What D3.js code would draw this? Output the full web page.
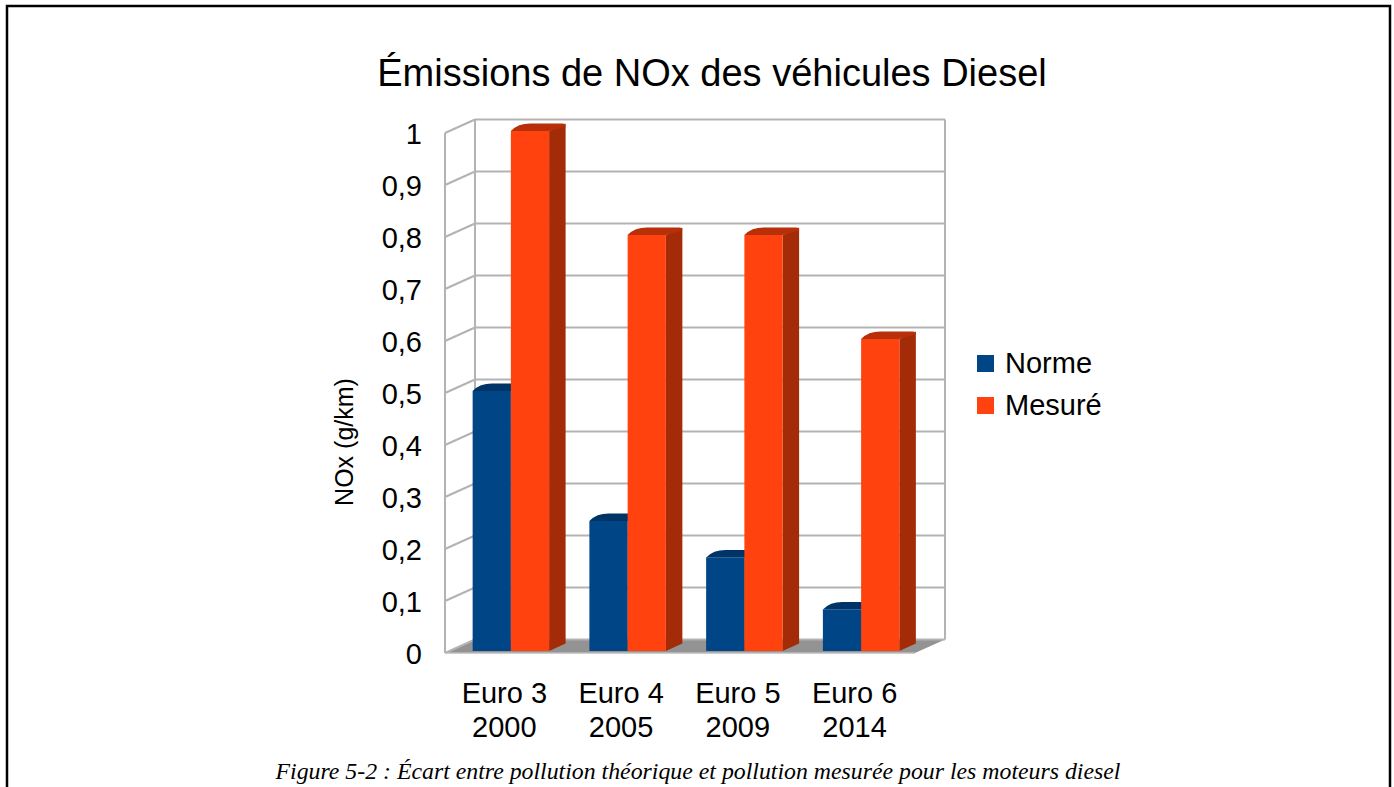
<!DOCTYPE html>
<html>
<head>
<meta charset="utf-8">
<script src="https://cdn.jsdelivr.net/npm/d3@7"></script>
<style>
  body { margin: 0; background: #fff; }
  svg text { font-family: "Liberation Sans", Arial, sans-serif; fill: #000; }
  .caption { font-family: "Liberation Serif", "DejaVu Serif", serif; font-style: italic; }
</style>
</head>
<body>
<svg id="chart" width="1394" height="787"></svg>
<script>
// chart data
var normes = ['Euro 3', 'Euro 4', 'Euro 5', 'Euro 6'];
var annees = ['2000', '2005', '2009', '2014'];
var seriesNames = ['Norme', 'Mesuré'];
var normeVals = [0.5, 0.25, 0.18, 0.08];
var mesureVals = [1.0, 0.8, 0.8, 0.6];
var yTicks = [0, 0.1, 0.2, 0.3, 0.4, 0.5, 0.6, 0.7, 0.8, 0.9, 1];

var frontColors = ['#004586', '#ff420e'];
var sideColors = ['#00305e', '#a32b08'];
var topColors = ['#003466', '#b8300a'];

var svg = d3.select('#chart');

// frame around the figure
svg.append('rect')
  .attr('x', 7).attr('y', 6)
  .attr('width', 1383).attr('height', 800)
  .attr('fill', 'none').attr('stroke', '#000').attr('stroke-width', 2.5);

// 3d layout: front plane + depth offset
var plotLeft = 445, plotRight = 915;
var y = d3.scaleLinear().domain([0, 1]).range([653, 133]);
var depthX = d3.scaleLinear().domain([0, 1]).range([0, 30]);
var depthY = d3.scaleLinear().domain([0, 1]).range([0, -13.5]);

var x = d3.scaleBand().domain(normes).range([448, 915])
  .paddingInner(0.345).paddingOuter(0.1725);
var xs = d3.scaleBand().domain(seriesNames).range([0, x.bandwidth()]);

var grid = '#b3b3b3';
var walls = svg.append('g');

// floor
var fz = depthX(1), fy = depthY(1);
walls.append('path')
  .attr('d', 'M' + plotLeft + ',' + y(0) + 'L' + plotRight + ',' + y(0) +
    'L' + (plotRight + fz) + ',' + (y(0) + fy) + 'L' + (plotLeft + fz) + ',' + (y(0) + fy) + 'Z')
  .attr('fill', '#939393');

// back wall gridlines
walls.selectAll('line.back').data(yTicks).enter().append('line')
  .attr('x1', plotLeft + fz).attr('x2', plotRight + fz)
  .attr('y1', function(d){ return y(d) + fy; })
  .attr('y2', function(d){ return y(d) + fy; })
  .attr('stroke', grid).attr('stroke-width', 2);
// side wall gridlines
walls.selectAll('line.side').data(yTicks).enter().append('line')
  .attr('x1', plotLeft).attr('x2', plotLeft + fz)
  .attr('y1', function(d){ return y(d); })
  .attr('y2', function(d){ return y(d) + fy; })
  .attr('stroke', grid).attr('stroke-width', 2);
// wall verticals
[[plotLeft, 0], [plotLeft + fz, fy], [plotRight + fz, fy]].forEach(function(p){
  walls.append('line')
    .attr('x1', p[0]).attr('x2', p[0])
    .attr('y1', y(0) + p[1]).attr('y2', y(1) + p[1])
    .attr('stroke', grid).attr('stroke-width', 2);
});
walls.append('line')
  .attr('x1', plotLeft).attr('x2', plotRight)
  .attr('y1', y(0)).attr('y2', y(0))
  .attr('stroke', '#bdbdbd').attr('stroke-width', 1.5);

// bars
var barData = [];
normes.forEach(function(n, i){
  barData.push({ cat: n, s: 0, v: normeVals[i] });
  barData.push({ cat: n, s: 1, v: mesureVals[i] });
});

var z0 = 0.15, z1 = 0.7;
var bars = svg.append('g').selectAll('g').data(barData).enter().append('g');

function pt(px, py){ return px + ',' + py; }

bars.each(function(d){
  var g = d3.select(this);
  var x0 = x(d.cat) + xs(seriesNames[d.s]) + depthX(z0);
  var x1 = x0 + xs.bandwidth();
  var yT = y(d.v) + depthY(z0), yB = y(0) + depthY(z0);
  var dx = depthX(z1) - depthX(z0), dy = depthY(z1) - depthY(z0);
  g.append('path')
    .attr('d', 'M' + pt(x1, yT) + 'L' + pt(x1 + dx, yT + dy) + 'L' + pt(x1 + dx, yB + dy) + 'L' + pt(x1, yB) + 'Z')
    .attr('fill', sideColors[d.s]);
  g.append('path')
    .attr('d', 'M' + pt(x0, yT) + 'Q' + pt(x0 + dx * 0.45, yT + dy * 1.05) + ' ' + pt(x0 + dx + 4, yT + dy) +
      'L' + pt(x1 + dx - 3, yT + dy) + 'Q' + pt(x1 + dx, yT + dy) + ' ' + pt(x1 + dx, yT + dy + 3) +
      'L' + pt(x1, yT) + 'Z')
    .attr('fill', topColors[d.s]);
  g.append('rect')
    .attr('x', x0).attr('y', yT)
    .attr('width', xs.bandwidth()).attr('height', yB - yT)
    .attr('fill', frontColors[d.s]);
});

// y axis labels
var fr = d3.formatLocale({ decimal: ',', thousands: ' ', grouping: [3], currency: ['', '€'] });
var yAxis = d3.axisLeft(y).tickValues(yTicks).tickSize(0).tickPadding(23)
  .tickFormat(function(d){ return fr.format('~g')(d); });
var ya = svg.append('g').attr('transform', 'translate(' + plotLeft + ',0)').call(yAxis);
ya.select('.domain').remove();
ya.selectAll('text').attr('font-size', 29).attr('dy', '0.37em')
  .attr('font-family', '"Liberation Sans", Arial, sans-serif').attr('fill', '#000');

svg.append('text')
  .attr('transform', 'translate(353,442) rotate(-90)')
  .attr('text-anchor', 'middle').attr('font-size', 25)
  .text('NOx (g/km)');

// category labels
var cats = svg.append('g').selectAll('text').data(normes).enter().append('text')
  .attr('text-anchor', 'middle').attr('font-size', 29)
  .attr('x', function(d){ return x(d) + x.bandwidth() / 2 - 2; })
  .attr('y', 703);
cats.append('tspan').text(function(d){ return d; });
cats.append('tspan')
  .attr('x', function(d){ return x(d) + x.bandwidth() / 2 - 2; })
  .attr('dy', 34)
  .text(function(d, i){ return annees[i]; });

// title
svg.append('text')
  .attr('x', 712).attr('y', 86)
  .attr('text-anchor', 'middle').attr('font-size', 38)
  .text('Émissions de NOx des véhicules Diesel');

// legend
var leg = svg.append('g').selectAll('g').data(seriesNames).enter().append('g')
  .attr('transform', function(d, i){ return 'translate(977,' + (355 + i * 42) + ')'; });
leg.append('rect').attr('width', 17).attr('height', 17)
  .attr('fill', function(d, i){ return frontColors[i]; });
leg.append('text').attr('x', 28).attr('y', 18).attr('font-size', 29)
  .text(function(d){ return d; });

// caption
svg.append('text')
  .attr('class', 'caption')
  .attr('x', 698).attr('y', 779)
  .attr('text-anchor', 'middle').attr('font-size', 23)
  .attr('textLength', 845).attr('lengthAdjust', 'spacingAndGlyphs')
  .text('Figure 5-2 : Écart entre pollution théorique et pollution mesurée pour les moteurs diesel');
</script>
</body>
</html>
